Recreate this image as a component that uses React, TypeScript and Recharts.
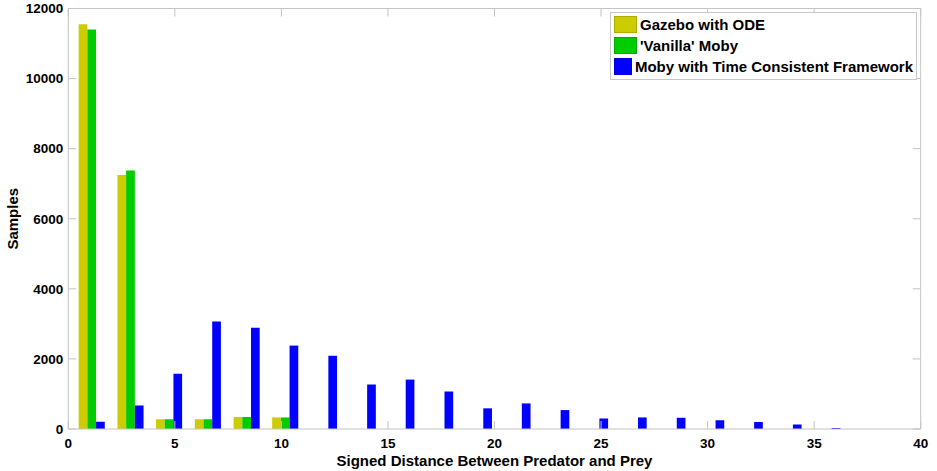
import React from 'react';
import { BarChart, Bar, XAxis, YAxis, Legend } from 'recharts';

const binCenters = [1.11, 2.93, 4.74, 6.56, 8.38, 10.19, 12.01, 13.83, 15.64, 17.46, 19.28, 21.09, 22.91, 24.73, 26.54, 28.36, 30.18, 31.99, 33.81, 35.63];
const gazeboODE = [11550, 7250, 280, 280, 340, 330, 0, 0, 0, 0, 0, 0, 0, 0, 0, 0, 0, 0, 0, 0];
const vanillaMoby = [11400, 7380, 280, 280, 340, 330, 0, 0, 0, 0, 0, 0, 0, 0, 0, 0, 0, 0, 0, 0];
const mobyTCF = [210, 670, 1580, 3070, 2890, 2380, 2090, 1270, 1410, 1070, 590, 730, 540, 300, 330, 320, 250, 200, 130, 30];
const xTicks = [0, 5, 10, 15, 20, 25, 30, 35, 40];
const yTicks = [0, 2000, 4000, 6000, 8000, 10000, 12000];

const seriesNames = ['Gazebo with ODE', "'Vanilla' Moby", 'Moby with Time Consistent Framework'];
const seriesColors = ['#cccc00', '#00cc00', '#0000ff'];
const seriesKeys = ['gazebo', 'vanilla', 'tcf'];

const data = binCenters.map((x, i) => ({
  x,
  gazebo: gazeboODE[i],
  vanilla: vanillaMoby[i],
  tcf: mobyTCF[i],
}));

const FONT = '"Liberation Sans", Arial, Helvetica, sans-serif';
const AXIS = '#c4c4c4';
const tickStyle = { fill: '#000', fontSize: 13.5, fontWeight: 'bold' as const, fontFamily: FONT };

const renderLegend = () => (
  <div
    style={{
      border: '1px solid #c8c8c8',
      background: '#fff',
      padding: '1px 3px 2px 3px',
      boxSizing: 'border-box',
      width: 307,
      fontFamily: FONT,
    }}
  >
    {seriesNames.map((name, i) => (
      <div key={name} style={{ display: 'flex', alignItems: 'center', height: 21 }}>
        <span
          style={{
            display: 'inline-block',
            width: 23,
            height: 17,
            background: seriesColors[i],
            marginRight: 3,
            boxSizing: 'border-box',
            border: '1px solid rgba(0,0,0,0.15)',
          }}
        />
        <span style={{ fontSize: 15, fontWeight: 'bold', color: '#000', whiteSpace: 'nowrap' }}>{name}</span>
      </div>
    ))}
  </div>
);

export default function App() {
  return (
    <div style={{ position: 'absolute', left: 0, top: 0, width: 937, height: 471, background: '#fff' }}>
      <BarChart
        width={937}
        height={471}
        data={data}
        margin={{ top: 7.5, right: 15.3, bottom: 0, left: 0.3 }}
        barGap={0}
        barSize={8.7}
      >
        <XAxis
          type="number"
          dataKey="x"
          domain={[0, 40]}
          ticks={xTicks}
          allowDataOverflow
          height={42}
          stroke={AXIS}
          tickSize={-8}
          tickMargin={17}
          tick={tickStyle}
          label={{
            value: 'Signed Distance Between Predator and Prey',
            position: 'insideBottom',
            offset: 5.5,
            fill: '#000',
            fontSize: 15,
            fontWeight: 'bold',
            fontFamily: FONT,
          }}
        />
        <XAxis
          xAxisId="top"
          orientation="top"
          type="number"
          dataKey="x"
          domain={[0, 40]}
          ticks={xTicks}
          allowDataOverflow
          height={1}
          stroke={AXIS}
          tickSize={-8}
          tickFormatter={() => ''}
        />
        <YAxis
          type="number"
          domain={[0, 12000]}
          ticks={yTicks}
          allowDataOverflow
          width={68}
          stroke={AXIS}
          tickSize={-8}
          tickMargin={13}
          tick={tickStyle}
          label={{
            value: 'Samples',
            angle: -90,
            position: 'insideLeft',
            offset: 12,
            fill: '#000',
            fontSize: 15,
            fontWeight: 'bold',
            fontFamily: FONT,
            style: { textAnchor: 'middle' },
          }}
        />
        <YAxis
          yAxisId="right"
          orientation="right"
          type="number"
          domain={[0, 12000]}
          ticks={yTicks}
          allowDataOverflow
          width={1}
          stroke={AXIS}
          tickSize={-8}
          tickFormatter={() => ''}
        />
        <Legend
          layout="vertical"
          align="center"
          verticalAlign="middle"
          content={renderLegend}
          wrapperStyle={{ left: 610, top: 12, width: 307, height: 'auto' }}
        />
        {seriesKeys.map((k, i) => (
          <Bar key={k} dataKey={k} name={seriesNames[i]} fill={seriesColors[i]} isAnimationActive={false} />
        ))}
      </BarChart>
    </div>
  );
}
